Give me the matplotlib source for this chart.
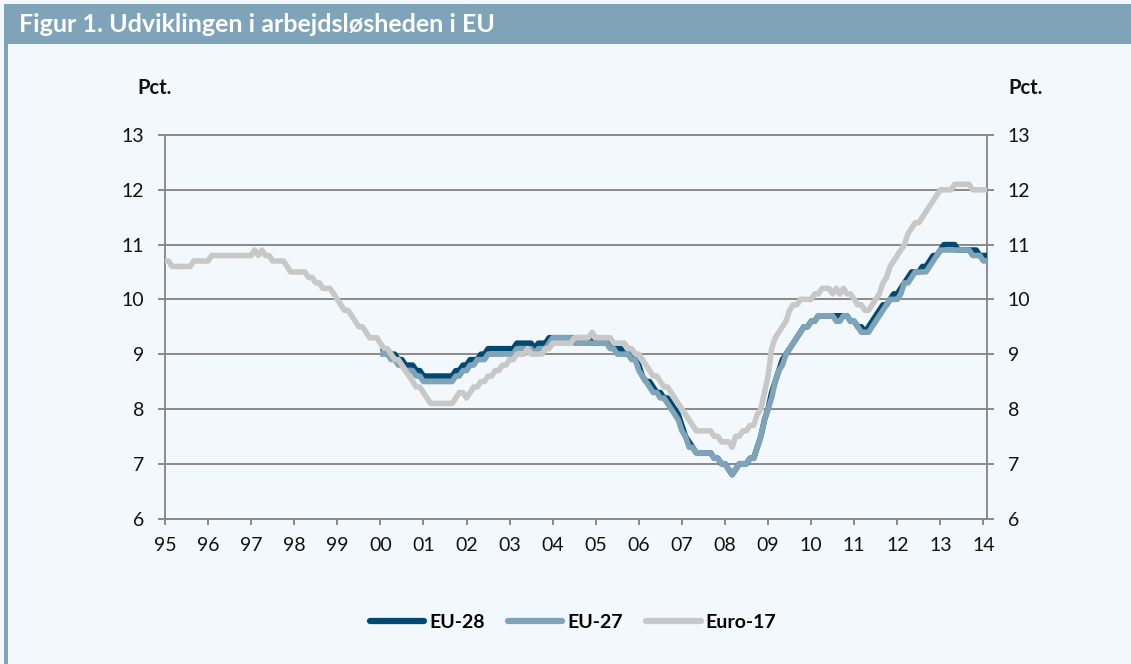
import matplotlib
matplotlib.use("Agg")
import matplotlib.pyplot as plt
from matplotlib.patches import Rectangle

# ---------------- data (monthly, per cent) ----------------
start_year = 1995          # Euro-17 starts Jan 1995
eu_start_year = 2000       # EU-28 / EU-27 start Jan 2000

euro17 = [
    10.7, 10.7, 10.6, 10.6, 10.6, 10.6, 10.6, 10.6, 10.7, 10.7, 10.7, 10.7,   # 1995
    10.7, 10.8, 10.8, 10.8, 10.8, 10.8, 10.8, 10.8, 10.8, 10.8, 10.8, 10.8,   # 1996
    10.8, 10.9, 10.8, 10.9, 10.8, 10.8, 10.7, 10.7, 10.7, 10.7, 10.6, 10.5,   # 1997
    10.5, 10.5, 10.5, 10.5, 10.4, 10.4, 10.3, 10.3, 10.2, 10.2, 10.2, 10.1,   # 1998
    10.0, 9.9, 9.8, 9.8, 9.7, 9.6, 9.5, 9.5, 9.4, 9.3, 9.3, 9.3,             # 1999
    9.2, 9.1, 9.1, 9.0, 8.9, 8.9, 8.8, 8.7, 8.6, 8.5, 8.4, 8.4,               # 2000
    8.3, 8.2, 8.1, 8.1, 8.1, 8.1, 8.1, 8.1, 8.1, 8.2, 8.3, 8.3,               # 2001
    8.2, 8.3, 8.4, 8.4, 8.5, 8.5, 8.6, 8.6, 8.7, 8.7, 8.8, 8.8,               # 2002
    8.9, 8.9, 9.0, 9.0, 9.0, 9.1, 9.0, 9.0, 9.0, 9.0, 9.1, 9.1,               # 2003
    9.2, 9.2, 9.2, 9.2, 9.2, 9.2, 9.3, 9.3, 9.3, 9.3, 9.3, 9.4,               # 2004
    9.3, 9.3, 9.3, 9.3, 9.3, 9.2, 9.2, 9.2, 9.2, 9.1, 9.1, 9.0,               # 2005
    9.0, 8.9, 8.8, 8.7, 8.6, 8.6, 8.5, 8.4, 8.4, 8.3, 8.2, 8.1,               # 2006
    8.0, 7.9, 7.8, 7.7, 7.6, 7.6, 7.6, 7.6, 7.6, 7.5, 7.5, 7.4,               # 2007
    7.4, 7.4, 7.3, 7.5, 7.5, 7.6, 7.6, 7.7, 7.7, 7.9, 8.0, 8.3,               # 2008
    8.6, 9.1, 9.3, 9.4, 9.5, 9.6, 9.8, 9.9, 9.9, 10.0, 10.0, 10.0,            # 2009
    10.0, 10.1, 10.1, 10.2, 10.2, 10.2, 10.1, 10.2, 10.1, 10.2, 10.1, 10.1,   # 2010
    10.0, 9.9, 9.9, 9.8, 9.8, 9.9, 10.0, 10.1, 10.3, 10.4, 10.6, 10.7,        # 2011
    10.8, 10.9, 11.0, 11.2, 11.3, 11.4, 11.4, 11.5, 11.6, 11.7, 11.8, 11.9,   # 2012
    12.0, 12.0, 12.0, 12.0, 12.1, 12.1, 12.1, 12.1, 12.1, 12.0, 12.0, 12.0,   # 2013
    12.0, 12.0,                                                               # 2014
]

eu28 = [
    9.1, 9.1, 9.0, 9.0, 9.0, 8.9, 8.9, 8.8, 8.8, 8.8, 8.7, 8.7,               # 2000
    8.6, 8.6, 8.6, 8.6, 8.6, 8.6, 8.6, 8.6, 8.6, 8.7, 8.7, 8.8,               # 2001
    8.8, 8.9, 8.9, 8.9, 9.0, 9.0, 9.1, 9.1, 9.1, 9.1, 9.1, 9.1,               # 2002
    9.1, 9.1, 9.2, 9.2, 9.2, 9.2, 9.2, 9.1, 9.2, 9.2, 9.2, 9.3,               # 2003
    9.3, 9.3, 9.3, 9.3, 9.3, 9.3, 9.3, 9.3, 9.3, 9.3, 9.3, 9.2,               # 2004
    9.2, 9.2, 9.2, 9.2, 9.2, 9.1, 9.1, 9.1, 9.0, 9.0, 9.0, 8.9,               # 2005
    8.8, 8.6, 8.5, 8.5, 8.4, 8.3, 8.3, 8.2, 8.2, 8.1, 8.0, 7.9,               # 2006
    7.7, 7.5, 7.4, 7.3, 7.2, 7.2, 7.2, 7.2, 7.2, 7.1, 7.1, 7.0,               # 2007
    7.0, 6.9, 6.8, 6.9, 7.0, 7.0, 7.0, 7.1, 7.1, 7.3, 7.5, 7.8,               # 2008
    8.0, 8.3, 8.5, 8.7, 8.9, 9.0, 9.1, 9.2, 9.3, 9.4, 9.5, 9.5,               # 2009
    9.6, 9.6, 9.7, 9.7, 9.7, 9.7, 9.7, 9.7, 9.7, 9.7, 9.7, 9.6,               # 2010
    9.6, 9.5, 9.5, 9.4, 9.5, 9.6, 9.7, 9.8, 9.9, 9.9, 10.0, 10.1,             # 2011
    10.1, 10.2, 10.3, 10.4, 10.5, 10.5, 10.5, 10.6, 10.6, 10.7, 10.8, 10.8,   # 2012
    10.9, 11.0, 11.0, 11.0, 11.0, 10.9, 10.9, 10.9, 10.9, 10.9, 10.9, 10.8,   # 2013
    10.8, 10.8,                                                               # 2014
]

eu27 = [
    9.0, 9.0, 9.0, 8.9, 8.9, 8.8, 8.8, 8.7, 8.7, 8.7, 8.6, 8.6,               # 2000
    8.5, 8.5, 8.5, 8.5, 8.5, 8.5, 8.5, 8.5, 8.5, 8.6, 8.6, 8.7,               # 2001
    8.7, 8.8, 8.8, 8.9, 8.9, 8.9, 9.0, 9.0, 9.0, 9.0, 9.0, 9.0,               # 2002
    9.0, 9.0, 9.1, 9.1, 9.1, 9.1, 9.1, 9.0, 9.1, 9.1, 9.1, 9.2,               # 2003
    9.3, 9.3, 9.3, 9.3, 9.3, 9.3, 9.2, 9.2, 9.2, 9.2, 9.2, 9.2,               # 2004
    9.2, 9.2, 9.2, 9.2, 9.1, 9.1, 9.0, 9.0, 9.0, 9.0, 8.9, 8.9,               # 2005
    8.7, 8.6, 8.5, 8.4, 8.3, 8.3, 8.2, 8.2, 8.1, 8.0, 7.9, 7.8,               # 2006
    7.6, 7.5, 7.3, 7.3, 7.2, 7.2, 7.2, 7.2, 7.2, 7.1, 7.1, 7.0,               # 2007
    7.0, 6.9, 6.8, 6.9, 7.0, 7.0, 7.0, 7.1, 7.1, 7.3, 7.5, 7.8,               # 2008
    8.0, 8.2, 8.5, 8.7, 8.8, 9.0, 9.1, 9.2, 9.3, 9.4, 9.5, 9.5,               # 2009
    9.6, 9.6, 9.7, 9.7, 9.7, 9.7, 9.7, 9.6, 9.6, 9.7, 9.7, 9.6,               # 2010
    9.6, 9.5, 9.4, 9.4, 9.4, 9.5, 9.6, 9.7, 9.8, 9.9, 10.0, 10.0,             # 2011
    10.0, 10.1, 10.3, 10.3, 10.4, 10.5, 10.5, 10.5, 10.5, 10.6, 10.7, 10.8,   # 2012
    10.9, 10.9, 10.9, 10.9, 10.9, 10.9, 10.9, 10.9, 10.9, 10.8, 10.8, 10.8,   # 2013
    10.7, 10.7,                                                               # 2014
]

series_names = ["EU-28", "EU-27", "Euro-17"]
year_ticks = list(range(1995, 2015))
year_labels = [f"{y % 100:02d}" for y in year_ticks]
y_ticks = [6, 7, 8, 9, 10, 11, 12, 13]

# ---------------- style ----------------
BG = "#f3f8fc"
BAR = "#7fa3b9"
C28 = "#004a72"
C27 = "#7fa3b9"
C17 = "#c8c8c8"
AXC = "#8a8a8a"
FONT = "Lato"

W, H = 1131, 664
fig = plt.figure(figsize=(W / 100, H / 100), dpi=100, facecolor=BG)

# title bar and left border
fig.patches.append(Rectangle((4 / W, 1 - 44 / H), 1 - 4 / W, 40 / H,
                             transform=fig.transFigure, facecolor=BAR,
                             edgecolor="none", zorder=0))
fig.patches.append(Rectangle((4 / W, 0), 3.5 / W, 1 - 44 / H,
                             transform=fig.transFigure, facecolor=BAR,
                             edgecolor="none", zorder=0))
fig.text(19 / W, 1 - 25 / H, "Figur 1. Udviklingen i arbejdsløsheden i EU",
         color="white", fontsize=18, fontweight="bold", family=FONT,
         ha="left", va="center")

left, right = 165 / W, 987 / W
bottom, top = 1 - 518.5 / H, 1 - 135 / H
ax = fig.add_axes([left, bottom, right - left, top - bottom])
ax.set_facecolor(BG)

x17 = [start_year + i / 12 for i in range(len(euro17))]
x28 = [eu_start_year + i / 12 for i in range(len(eu28))]
x27 = [eu_start_year + i / 12 for i in range(len(eu27))]

lw = 4.0
ax.plot(x28, eu28, color=C28, lw=lw, label=series_names[0],
        solid_joinstyle="round", solid_capstyle="butt", zorder=3)
ax.plot(x27, eu27, color=C27, lw=lw, label=series_names[1],
        solid_joinstyle="round", solid_capstyle="butt", zorder=4)
ax.plot(x17, euro17, color=C17, lw=lw, label=series_names[2],
        solid_joinstyle="round", solid_capstyle="butt", zorder=5)

ax.set_xlim(start_year, start_year + (len(euro17) - 1) / 12)
ax.set_ylim(6, 13)
ax.set_xticks(year_ticks)
ax.set_xticklabels(year_labels)
ax.set_yticks(y_ticks)

ax.yaxis.grid(True, color=AXC, lw=1.4, zorder=1)
ax.set_axisbelow(True)
for s in ["left", "right", "bottom", "top"]:
    ax.spines[s].set_color(AXC)
    ax.spines[s].set_linewidth(1.4)

ax.tick_params(axis="y", which="major", direction="out", length=5, width=1.4,
               color=AXC, left=True, right=True, labelleft=True,
               labelright=True, pad=10, labelsize=14)
ax.tick_params(axis="x", which="major", direction="out", length=4.5, width=1.4,
               color=AXC, pad=9, labelsize=14)
for lab in ax.get_xticklabels() + ax.get_yticklabels():
    lab.set_family(FONT)
    lab.set_color("#111111")
for t in ax.yaxis.get_major_ticks():
    t.label2.set_family(FONT)
    t.label2.set_fontsize(14)
    t.label2.set_color("#111111")

fig.text(155 / W, 1 - 88 / H, "Pct.", fontsize=14.5, fontweight="bold",
         family=FONT, ha="center", va="center", color="#111111")
fig.text(1026 / W, 1 - 88 / H, "Pct.", fontsize=14.5, fontweight="bold",
         family=FONT, ha="center", va="center", color="#111111")

handles, labels = ax.get_legend_handles_labels()
leg = fig.legend(handles, labels, loc="center", ncol=3, frameon=False,
                 bbox_to_anchor=(573 / W, 1 - 622 / H),
                 prop={"family": FONT, "weight": "bold", "size": 14},
                 handlelength=2.8, handletextpad=0.25, columnspacing=1.2)
for h in leg.get_lines():
    h.set_linewidth(4.5)
    h.set_solid_capstyle("round")

fig.savefig("out.png", dpi=100, facecolor=BG)
